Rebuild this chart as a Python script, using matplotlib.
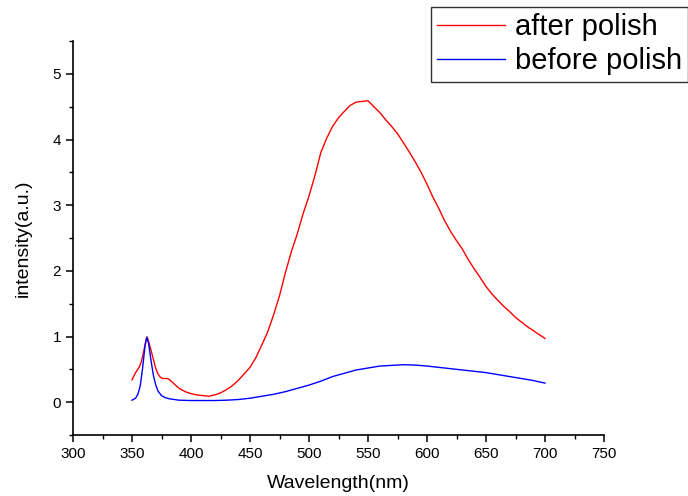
import matplotlib
matplotlib.use("Agg")
import matplotlib.pyplot as plt
from matplotlib.ticker import MultipleLocator

after_x = [350, 353, 356, 358, 360, 362, 363, 364, 366, 368, 370, 372, 374, 376, 378, 380,
           382, 385, 388, 390, 395, 400, 405, 410, 415, 420, 425, 430, 435, 440, 445, 450,
           455, 460, 465, 470, 475, 480, 485, 490, 495, 500, 505, 510, 515, 520, 525, 530,
           535, 540, 545, 550, 555, 560, 565, 570, 575, 580, 585, 590, 595, 600, 605, 610,
           615, 620, 625, 630, 635, 640, 645, 650, 655, 660, 665, 670, 675, 680, 685, 690,
           695, 700]
after_y = [0.34, 0.45, 0.53, 0.62, 0.78, 0.96, 0.99, 0.93, 0.80, 0.66, 0.52, 0.43, 0.38, 0.36, 0.36, 0.36,
           0.34, 0.29, 0.24, 0.21, 0.16, 0.13, 0.11, 0.10, 0.09, 0.11, 0.14, 0.19, 0.25, 0.33, 0.43, 0.53,
           0.68, 0.87, 1.07, 1.33, 1.62, 1.97, 2.29, 2.56, 2.87, 3.14, 3.45, 3.80, 4.02, 4.20, 4.33, 4.43,
           4.52, 4.57, 4.58, 4.59, 4.50, 4.41, 4.30, 4.20, 4.09, 3.95, 3.81, 3.66, 3.50, 3.32, 3.12, 2.95,
           2.76, 2.60, 2.46, 2.33, 2.17, 2.03, 1.90, 1.76, 1.65, 1.55, 1.46, 1.38, 1.29, 1.22, 1.15, 1.09,
           1.03, 0.97]

before_x = [350, 353, 355, 357, 359, 361, 362.5, 364, 366, 368, 370, 372, 375, 378, 382, 386,
            390, 400, 410, 420, 430, 440, 450, 460, 470, 480, 490, 500, 510, 520, 530, 540,
            550, 560, 570, 580, 590, 600, 610, 620, 630, 640, 650, 660, 670, 680, 690, 700]
before_y = [0.03, 0.06, 0.12, 0.25, 0.52, 0.85, 0.99, 0.90, 0.65, 0.42, 0.27, 0.17, 0.10, 0.07, 0.05, 0.04,
            0.03, 0.025, 0.025, 0.025, 0.03, 0.04, 0.06, 0.09, 0.12, 0.16, 0.21, 0.26, 0.32, 0.39, 0.44, 0.49,
            0.52, 0.55, 0.56, 0.57, 0.565, 0.55, 0.53, 0.51, 0.49, 0.47, 0.45, 0.42, 0.39, 0.36, 0.33, 0.29]

labels = ["after polish", "before polish"]

plt.rcParams['font.family'] = ['Liberation Sans', 'DejaVu Sans']

fig = plt.figure(figsize=(6.88, 4.96), dpi=100)
ax = fig.add_axes([73/688, 1 - 435/496, (604 - 73)/688, (435 - 41)/496])

l1, = ax.plot(after_x, after_y, color='red', lw=1.0, label=labels[0])
l2, = ax.plot(before_x, before_y, color='blue', lw=1.0, label=labels[1])

ax.set_xlim(300, 750)
ax.set_ylim(-0.5, 5.5)
ax.xaxis.set_major_locator(MultipleLocator(50))
ax.xaxis.set_minor_locator(MultipleLocator(25))
ax.yaxis.set_major_locator(MultipleLocator(1))
ax.yaxis.set_minor_locator(MultipleLocator(0.5))
ax.spines['top'].set_visible(False)
ax.spines['right'].set_visible(False)
for s in ('left', 'bottom'):
    ax.spines[s].set_linewidth(1.2)
ax.tick_params(which='major', direction='out', length=5, width=1.1, labelsize=11)
ax.tick_params(which='minor', direction='out', length=3, width=1.0)

ax.set_xlabel("Wavelength(nm)", fontsize=14, labelpad=10)
ax.set_ylabel("intensity(a.u.)", fontsize=14, labelpad=15)

leg = fig.legend(handles=[l1, l2], labels=labels, loc='upper left',
                 bbox_to_anchor=(431/688, 1 - 7/496), fontsize=21,
                 frameon=True, fancybox=False, edgecolor='black',
                 handlelength=2.3, handletextpad=0.35, borderpad=0.22,
                 labelspacing=0.2, borderaxespad=0)
leg.get_frame().set_linewidth(1.0)

fig.savefig("out.png", dpi=100)
